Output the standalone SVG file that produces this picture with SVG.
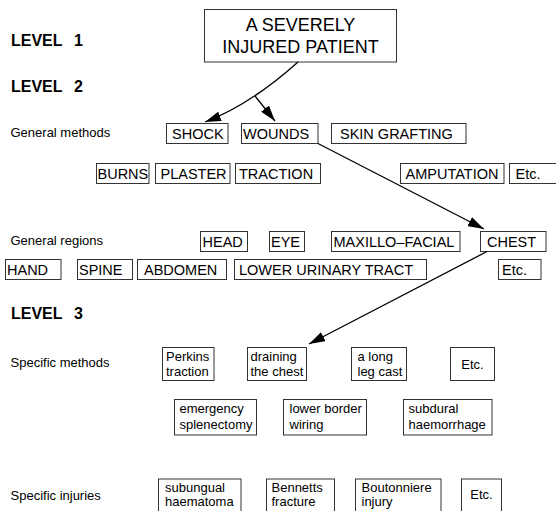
<svg xmlns="http://www.w3.org/2000/svg" width="556" height="511" viewBox="0 0 556 511">
<style>
text{font-family:"Liberation Sans",Arial,sans-serif;fill:#000}
.lv{font-size:16px;font-weight:bold}
.lb{font-size:13px}
.bx{fill:#fff;stroke:#333;stroke-width:1}
.t{font-size:14.5px}
.s{font-size:13px}
.c{text-anchor:middle}
.ln{fill:none;stroke:#000;stroke-width:1.3}
</style>
<defs>
<marker id="ah" markerUnits="userSpaceOnUse" markerWidth="16" markerHeight="10" refX="16" refY="5" orient="auto">
<path d="M0,0 L16,5 L0,10 z" fill="#000"/>
</marker>
</defs>
<rect width="556" height="511" fill="#fff"/>
<g id="labels">
<text class="lv" x="11" y="46">LEVEL<tspan x="74">1</tspan></text>
<text class="lv" x="11" y="91.5">LEVEL<tspan x="74">2</tspan></text>
<text class="lv" x="11" y="318.5">LEVEL<tspan x="74">3</tspan></text>
<text class="lb" x="10.5" y="137">General methods</text>
<text class="lb" x="10.5" y="245">General regions</text>
<text class="lb" x="10.5" y="367">Specific methods</text>
<text class="lb" x="10.5" y="499.5">Specific injuries</text>
</g>
<g id="patient"><rect class="bx" x="204.5" y="9.5" width="192" height="52.5" stroke="#000"/>
<text class="c" x="300.5" y="30.5" font-size="18">A SEVERELY</text>
<text class="c" x="300.5" y="52.5" font-size="18">INJURED PATIENT</text></g>
<g id="shock"><rect class="bx" x="166.5" y="123.5" width="61.5" height="20"/><text class="t" x="172" y="139">SHOCK</text></g>
<g id="wounds"><rect class="bx" x="241.5" y="123.5" width="76.5" height="20"/><text class="t" x="243" y="139">WOUNDS</text></g>
<g id="skin"><rect class="bx" x="331.5" y="123.5" width="134.5" height="20"/><text class="t" x="340" y="139">SKIN GRAFTING</text></g>
<g id="burns"><rect class="bx" x="96.5" y="163.5" width="52.5" height="20"/><text class="t" x="97.5" y="179">BURNS</text></g>
<g id="plaster"><rect class="bx" x="155.5" y="163.5" width="74.5" height="20"/><text class="t" x="160.5" y="179">PLASTER</text></g>
<g id="traction"><rect class="bx" x="235.5" y="163.5" width="85" height="20"/><text class="t" x="239" y="179">TRACTION</text></g>
<g id="amputation"><rect class="bx" x="400.5" y="163.5" width="103.5" height="20"/><text class="t" x="405.5" y="179">AMPUTATION</text></g>
<g id="etc1"><rect class="bx" x="509.5" y="163.5" width="60" height="20"/><text class="t" x="515.5" y="179">Etc.</text></g>
<g id="head"><rect class="bx" x="200.5" y="231.5" width="47" height="20"/><text class="t" x="202.5" y="247">HEAD</text></g>
<g id="eye"><rect class="bx" x="269.5" y="231.5" width="35" height="20"/><text class="t" x="271" y="247">EYE</text></g>
<g id="maxillo"><rect class="bx" x="331.5" y="231.5" width="128.5" height="20"/><text class="t" x="333.5" y="247">MAXILLO–FACIAL</text></g>
<g id="chest"><rect class="bx" x="480.5" y="231.5" width="65.5" height="20"/><text class="t" x="487" y="247">CHEST</text></g>
<g id="hand"><rect class="bx" x="5.5" y="259.5" width="55.5" height="20"/><text class="t" x="7" y="275">HAND</text></g>
<g id="spine"><rect class="bx" x="77.5" y="259.5" width="55" height="20"/><text class="t" x="79" y="275">SPINE</text></g>
<g id="abdomen"><rect class="bx" x="137.5" y="259.5" width="89" height="20"/><text class="t" x="144" y="275">ABDOMEN</text></g>
<g id="urinary"><rect class="bx" x="234.5" y="259.5" width="192" height="20"/><text class="t" x="239" y="275">LOWER URINARY TRACT</text></g>
<g id="etc2"><rect class="bx" x="498.5" y="259.5" width="42.5" height="20"/><text class="t" x="502" y="275">Etc.</text></g>
<g id="perkins"><rect class="bx" x="162.5" y="347.5" width="51.5" height="33"/><text class="s" x="166" y="360.5">Perkins</text><text class="s" x="166" y="376">traction</text></g>
<g id="draining"><rect class="bx" x="247.5" y="347.5" width="59" height="33"/><text class="s" x="250.5" y="360.5">draining</text><text class="s" x="250.5" y="376">the chest</text></g>
<g id="longleg"><rect class="bx" x="351.5" y="347.5" width="55" height="33"/><text class="s" x="357.5" y="360.5">a long</text><text class="s" x="357.5" y="376">leg cast</text></g>
<g id="etc3"><rect class="bx" x="450.5" y="347.5" width="44" height="33"/><text class="s c" x="472.5" y="369">Etc.</text></g>
<g id="splenectomy"><rect class="bx" x="174.5" y="399.5" width="82" height="35.5"/><text class="s" x="179.5" y="412.5">emergency</text><text class="s" x="179.5" y="428.5">splenectomy</text></g>
<g id="wiring"><rect class="bx" x="283.5" y="399.5" width="83" height="35.5"/><text class="s" x="289.5" y="412.5">lower border</text><text class="s" x="289.5" y="428.5">wiring</text></g>
<g id="subdural"><rect class="bx" x="403.5" y="399.5" width="88.5" height="35.5"/><text class="s" x="408.5" y="412.5">subdural</text><text class="s" x="408.5" y="428.5">haemorrhage</text></g>
<g id="subungual"><rect class="bx" x="158.5" y="479" width="82.5" height="40"/><text class="s" x="165" y="491.5">subungual</text><text class="s" x="165" y="505.5">haematoma</text></g>
<g id="bennetts"><rect class="bx" x="266.5" y="479" width="68" height="40"/><text class="s" x="271.5" y="491.5">Bennetts</text><text class="s" x="271.5" y="505.5">fracture</text></g>
<g id="boutonniere"><rect class="bx" x="355.5" y="479" width="85.5" height="40"/><text class="s" x="361.5" y="491.5">Boutonniere</text><text class="s" x="361.5" y="505.5">injury</text></g>
<g id="etc4"><rect class="bx" x="461.5" y="479" width="40" height="40"/><text class="s c" x="481.5" y="498.5">Etc.</text></g>
<g id="connectors">
<path class="ln" d="M298,62 Q250,105 205,122" marker-end="url(#ah)"/>
<path class="ln" d="M255,96 L275,121" marker-end="url(#ah)"/>
<path class="ln" d="M318,143.5 L484,229" marker-end="url(#ah)"/>
<path class="ln" d="M487,251.5 L309,344" marker-end="url(#ah)"/>
</g>
</svg>
